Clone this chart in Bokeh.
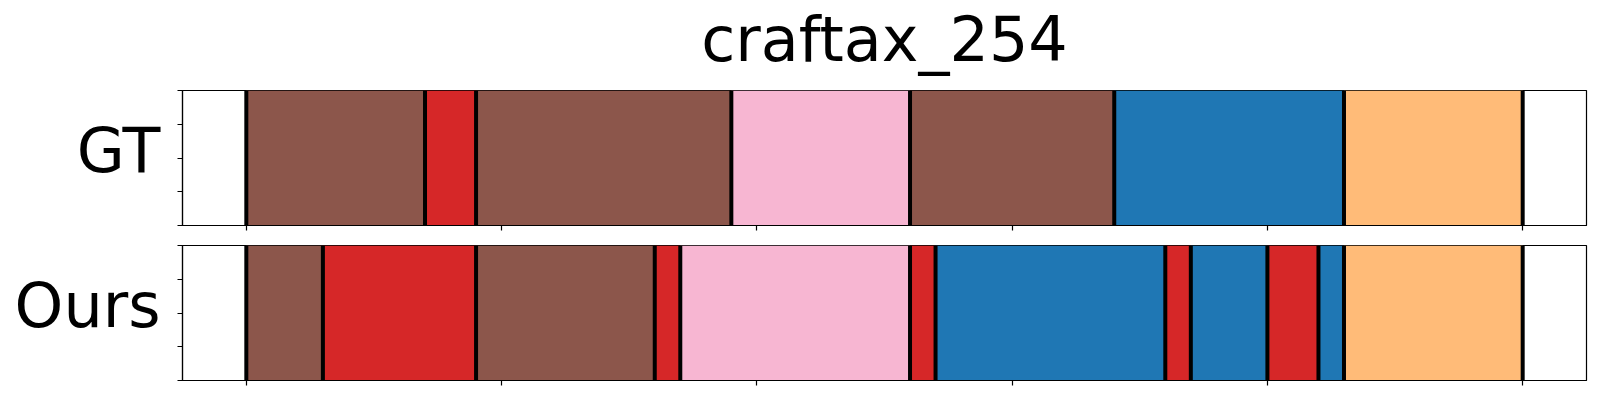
from bokeh.plotting import figure
from bokeh.layouts import column
from bokeh.models import FixedTicker, Range1d, LinearAxis
from bokeh.palettes import Category20_20
from bokeh.embed import file_html
from bokeh.resources import INLINE

# ---- data ----
title_text = "craftax_254"
row_names = ["GT", "Ours"]
gt_bounds = [0, 14, 18, 38, 52, 68, 86, 100]
gt_classes = [10, 6, 10, 13, 10, 0, 3]
ours_bounds = [0, 6, 18, 32, 34, 52, 54, 72, 74, 80, 84, 86, 100]
ours_classes = [10, 6, 10, 6, 13, 6, 0, 6, 0, 6, 0, 3]
x_ticks = [0, 20, 40, 60, 80, 100]
y_ticks = [0, 0.25, 0.5, 0.75, 1.0]

FONT = "DejaVu Sans"
total = gt_bounds[-1]
pad = 0.05 * total
label_pos = 0.555  # where the row name sits on the y scale

# title strip (its own tiny figure so the panels keep their exact places)
t = figure(
    frame_width=1404, frame_height=1,
    min_border_left=182, min_border_right=6, min_border_top=0, min_border_bottom=0,
    x_range=Range1d(-pad, total + pad), y_range=Range1d(0, 1),
    x_axis_location=None, y_axis_location=None,
    output_backend="svg", toolbar_location=None, tools="", title=title_text,
)
t.grid.visible = False
t.outline_line_color = None
t.title.align = "center"
t.title.text_font = FONT
t.title.text_font_size = "62px"
t.title.text_font_style = "normal"
t.title.text_color = "black"
t.title.standoff = 0


def make_panel(bounds, classes, name, top_border, bottom_border):
    p = figure(
        frame_width=1404, frame_height=135,
        min_border_left=182, min_border_right=6,
        min_border_top=top_border, min_border_bottom=bottom_border,
        x_range=Range1d(-pad, total + pad), y_range=Range1d(0, 1),
        output_backend="svg", toolbar_location=None, tools="",
    )
    p.grid.visible = False
    p.outline_line_color = "black"
    p.outline_line_width = 1.2
    p.background_fill_color = "white"
    p.border_fill_color = "white"
    for ax, ticks in ((p.xaxis[0], x_ticks), (p.yaxis[0], y_ticks)):
        ax.ticker = FixedTicker(ticks=ticks)
        ax.major_tick_out = 5
        ax.major_tick_in = 0
        ax.minor_tick_line_color = None
        ax.major_tick_line_color = "black"
        ax.major_tick_line_width = 1.2
        ax.axis_line_color = "black"
        ax.axis_line_width = 1.2
        ax.major_label_overrides = {v: "" for v in ticks}
        ax.major_label_standoff = 0
        ax.major_label_text_font_size = "4px"

    name_axis = LinearAxis(
        ticker=FixedTicker(ticks=[label_pos]),
        major_label_overrides={label_pos: name},
        major_label_text_font=FONT, major_label_text_font_size="62px",
        major_label_text_color="black", major_label_standoff=17,
        major_tick_out=0, major_tick_in=0, major_tick_line_color=None,
        minor_tick_line_color=None, axis_line_color=None,
    )
    p.add_layout(name_axis, "left")

    lefts = bounds[:-1]
    rights = bounds[1:]
    colors = [Category20_20[c] for c in classes]
    p.quad(left=lefts, right=rights, bottom=0, top=1,
           fill_color=colors, line_color=None)
    p.segment(x0=bounds, x1=bounds, y0=[0] * len(bounds), y1=[1] * len(bounds),
              line_color="black", line_width=4)
    return p


p1 = make_panel(gt_bounds, gt_classes, row_names[0], 14, 10)
p2 = make_panel(ours_bounds, ours_classes, row_names[1], 10, 12)

layout = column(t, p1, p2, spacing=0)
open("out.html", "w").write(file_html(layout, INLINE))
